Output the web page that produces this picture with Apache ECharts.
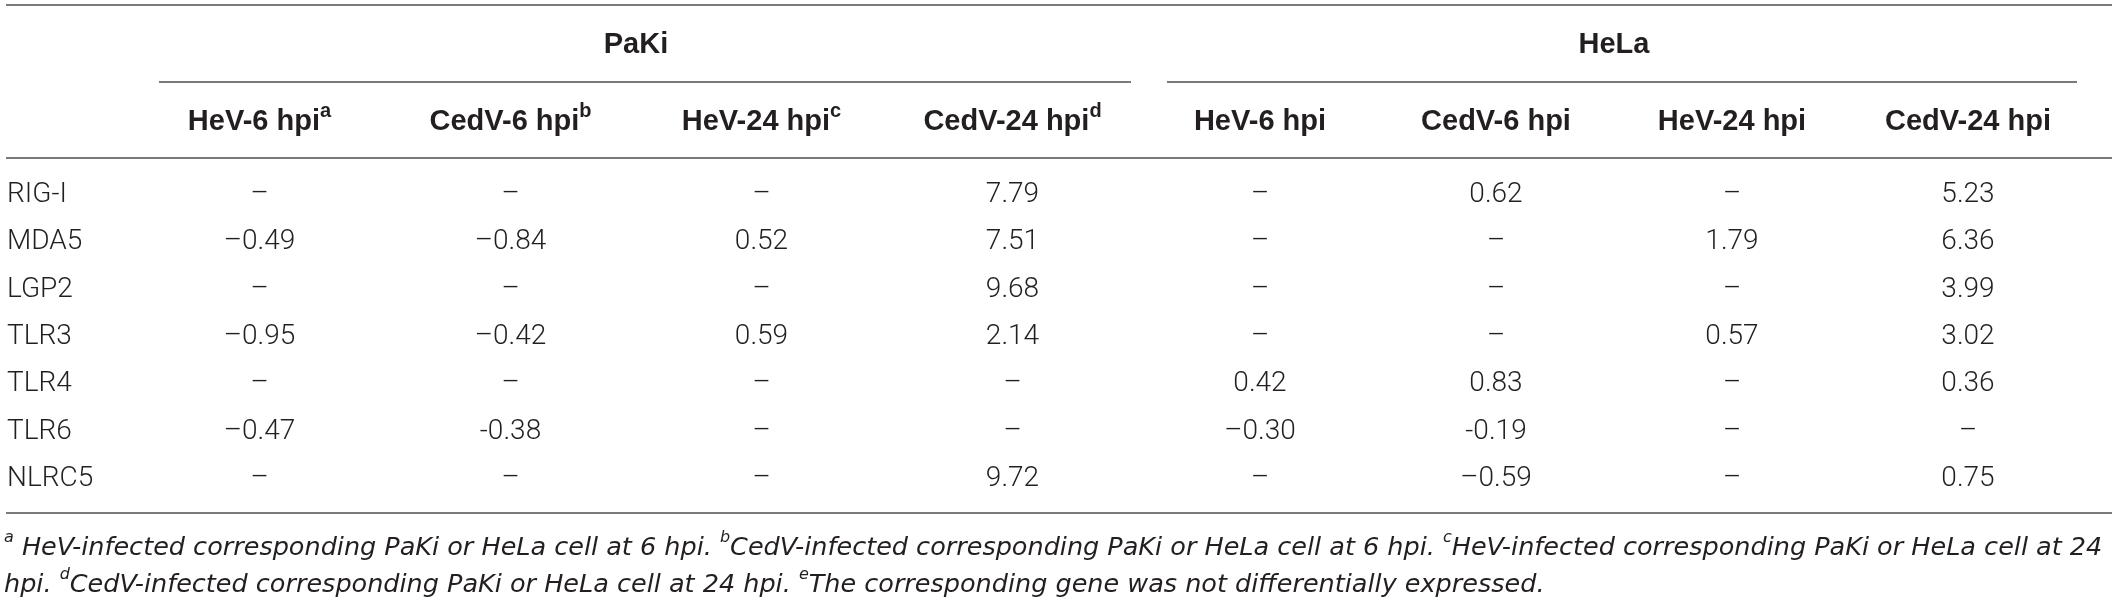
<!DOCTYPE html>
<html lang="en">
<head>
<meta charset="UTF-8">
<title>PaKi / HeLa expression table</title>
<script src="https://cdn.jsdelivr.net/npm/echarts/dist/echarts.min.js"></script>
<style>
  html, body { margin: 0; padding: 0; background: #fff; }
  #table { width: 2118px; height: 605px; }
</style>
</head>
<body>
<div id="table"></div>
<script>
  // row / column labels
  var genes = ['RIG-I', 'MDA5', 'LGP2', 'TLR3', 'TLR4', 'TLR6', 'NLRC5'];
  var groups = ['PaKi', 'HeLa'];
  var paKiCols = ['HeV-6 hpi{sup|a}', 'CedV-6 hpi{sup|b}', 'HeV-24 hpi{sup|c}', 'CedV-24 hpi{sup|d}'];
  var helaCols = ['HeV-6 hpi', 'CedV-6 hpi', 'HeV-24 hpi', 'CedV-24 hpi'];

  // cell values as printed (one array per column, rows in gene order)
  var paKiHeV6   = ['–', '–0.49', '–', '–0.95', '–', '–0.47', '–'];
  var paKiCedV6  = ['–', '–0.84', '–', '–0.42', '–', '-0.38', '–'];
  var paKiHeV24  = ['–', '0.52', '–', '0.59', '–', '–', '–'];
  var paKiCedV24 = ['7.79', '7.51', '9.68', '2.14', '–', '–', '9.72'];
  var helaHeV6   = ['–', '–', '–', '–', '0.42', '–0.30', '–'];
  var helaCedV6  = ['0.62', '–', '–', '–', '0.83', '-0.19', '–0.59'];
  var helaHeV24  = ['–', '1.79', '–', '0.57', '–', '–', '–'];
  var helaCedV24 = ['5.23', '6.36', '3.99', '3.02', '0.36', '–', '0.75'];

  var footnote = '{sup|a} HeV-infected corresponding PaKi or HeLa cell at 6 hpi. {sup|b}CedV-infected corresponding PaKi or HeLa cell at 6 hpi. {sup|c}HeV-infected corresponding PaKi or HeLa cell at 24\n' +
                 'hpi. {sup|d}CedV-infected corresponding PaKi or HeLa cell at 24 hpi. {sup|e}The corresponding gene was not differentially expressed.';

  var headFont = "'Liberation Sans', Helvetica, Arial, sans-serif";
  var bodyFont = "Roboto, 'Liberation Sans', Arial, sans-serif";
  var noteFont = "'DejaVu Sans', 'Liberation Sans', sans-serif";
  var textColor = '#231f20';
  var ruleColor = '#7a7a7a';

  function cellSeries(idx, columns) {
    var data = [];
    columns.forEach(function (col, c) {
      col.forEach(function (v, r) { data.push([c, r, v]); });
    });
    return {
      type: 'custom',
      xAxisIndex: idx,
      yAxisIndex: idx,
      data: data,
      silent: true,
      renderItem: function (params, api) {
        var p = api.coord([api.value(0), api.value(1)]);
        return {
          type: 'text',
          x: p[0],
          y: p[1],
          style: {
            text: data[params.dataIndex][2],
            fill: textColor,
            fontFamily: bodyFont,
            fontWeight: 300,
            fontSize: 28,
            align: 'center',
            verticalAlign: 'middle'
          }
        };
      }
    };
  }

  function topAxis(idx, cols) {
    return {
      type: 'category',
      gridIndex: idx,
      data: cols,
      position: 'top',
      axisLine: { show: false },
      axisTick: { show: false },
      splitLine: { show: false },
      axisLabel: {
        margin: 28,
        interval: 0,
        color: textColor,
        fontFamily: headFont,
        fontWeight: 'bold',
        fontSize: 29,
        lineHeight: 42,
        rich: {
          sup: { fontSize: 20, fontWeight: 'bold', fontFamily: headFont, color: textColor, verticalAlign: 'top', lineHeight: 24 }
        }
      },
      name: groups[idx],
      nameLocation: 'middle',
      nameGap: 112,
      nameTextStyle: { color: textColor, fontFamily: headFont, fontWeight: 'bold', fontSize: 29 }
    };
  }

  function geneAxis(idx, showLabels) {
    return {
      type: 'category',
      gridIndex: idx,
      data: genes,
      inverse: true,
      axisLine: { show: false },
      axisTick: { show: false },
      splitLine: { show: false },
      axisLabel: {
        show: showLabels,
        align: 'left',
        margin: 127,
        color: textColor,
        fontFamily: bodyFont,
        fontWeight: 300,
        fontSize: 28
      }
    };
  }

  function rule(x1, x2, y) {
    return {
      type: 'line',
      shape: { x1: x1, y1: y, x2: x2, y2: y },
      style: { stroke: ruleColor, lineWidth: 2 },
      silent: true
    };
  }

  var option = {
    backgroundColor: '#fff',
    animation: false,
    grid: [
      { left: 134, top: 171, width: 1004, height: 332 },
      { left: 1142, top: 171, width: 944, height: 332 }
    ],
    xAxis: [topAxis(0, paKiCols), topAxis(1, helaCols)],
    yAxis: [geneAxis(0, true), geneAxis(1, false)],
    series: [
      cellSeries(0, [paKiHeV6, paKiCedV6, paKiHeV24, paKiCedV24]),
      cellSeries(1, [helaHeV6, helaCedV6, helaHeV24, helaCedV24])
    ],
    graphic: [
      rule(6, 2112, 5),
      rule(159, 1131, 82),
      rule(1167, 2077, 82),
      rule(6, 2112, 158),
      rule(6, 2112, 513),
      {
        type: 'text',
        left: 4,
        top: 530,
        silent: true,
        style: {
          text: footnote,
          fill: textColor,
          fontFamily: noteFont,
          fontWeight: 200,
          fontStyle: 'italic',
          fontSize: 25.5,
          lineHeight: 37,
          rich: {
            sup: { fontSize: 16, fontStyle: 'italic', fontWeight: 200, fontFamily: noteFont, color: textColor, verticalAlign: 'top', padding: [0, 0, 12, 0] }
          }
        }
      }
    ]
  };

  var chart = echarts.init(document.getElementById('table'));
  chart.setOption(option);
</script>
</body>
</html>
